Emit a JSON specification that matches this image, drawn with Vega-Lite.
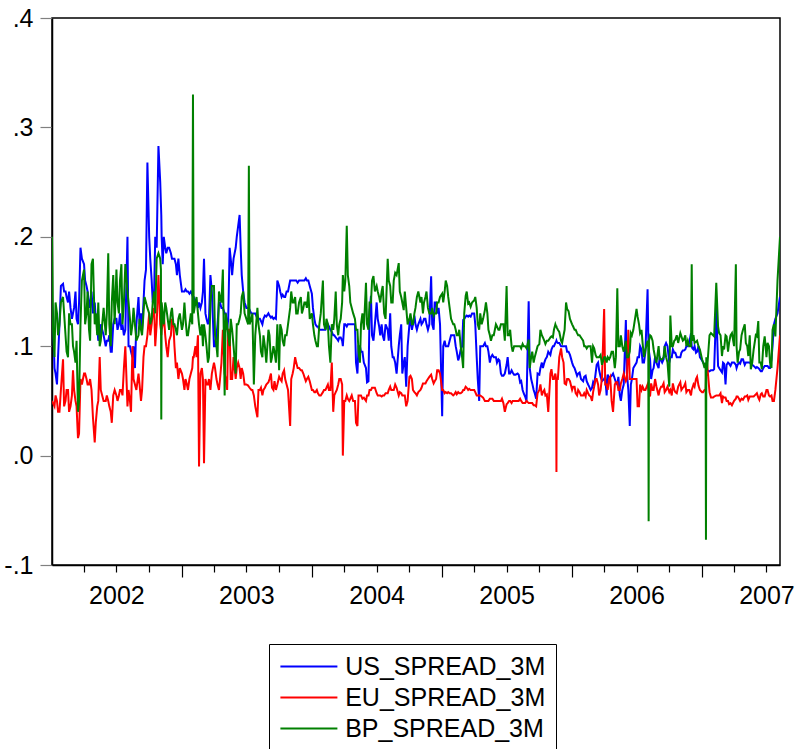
{
  "$schema": "https://vega.github.io/schema/vega-lite/v6.json",
  "width": 728,
  "height": 547,
  "autosize": {"type": "none"},
  "padding": {"left": 52, "top": 18, "right": 15, "bottom": 184},
  "background": "white",
  "data": {
    "values": [
      {"d":"2002-01-01","US":0.14,"EU":0.05,"BP":0.20},
      {"d":"2002-01-08","US":0.08,"EU":0.045,"BP":0.09},
      {"d":"2002-01-15","US":0.065,"EU":0.05,"BP":0.13},
      {"d":"2002-01-22","US":0.12,"EU":0.04,"BP":0.12},
      {"d":"2002-02-01","US":0.157,"EU":0.088,"BP":0.145},
      {"d":"2002-02-08","US":0.15,"EU":0.05,"BP":0.11},
      {"d":"2002-02-15","US":0.14,"EU":0.06,"BP":0.09},
      {"d":"2002-02-22","US":0.135,"EU":0.045,"BP":0.12},
      {"d":"2002-03-01","US":0.13,"EU":0.078,"BP":0.10},
      {"d":"2002-03-08","US":0.15,"EU":0.05,"BP":0.085},
      {"d":"2002-03-15","US":0.12,"EU":0.016,"BP":0.04},
      {"d":"2002-03-22","US":0.19,"EU":0.07,"BP":0.12},
      {"d":"2002-04-01","US":0.175,"EU":0.075,"BP":0.17},
      {"d":"2002-04-08","US":0.155,"EU":0.07,"BP":0.13},
      {"d":"2002-04-15","US":0.14,"EU":0.065,"BP":0.115},
      {"d":"2002-04-22","US":0.15,"EU":0.06,"BP":0.175},
      {"d":"2002-05-01","US":0.14,"EU":0.012,"BP":0.12},
      {"d":"2002-05-08","US":0.12,"EU":0.045,"BP":0.11},
      {"d":"2002-05-15","US":0.11,"EU":0.09,"BP":0.10},
      {"d":"2002-05-22","US":0.115,"EU":0.055,"BP":0.12},
      {"d":"2002-06-01","US":0.10,"EU":0.05,"BP":0.11},
      {"d":"2002-06-08","US":0.105,"EU":0.05,"BP":0.185},
      {"d":"2002-06-15","US":0.095,"EU":0.04,"BP":0.10},
      {"d":"2002-06-22","US":0.12,"EU":0.055,"BP":0.165},
      {"d":"2002-07-01","US":0.125,"EU":0.055,"BP":0.17},
      {"d":"2002-07-08","US":0.12,"EU":0.055,"BP":0.13},
      {"d":"2002-07-15","US":0.115,"EU":0.06,"BP":0.175},
      {"d":"2002-07-22","US":0.11,"EU":0.08,"BP":0.14},
      {"d":"2002-08-01","US":0.20,"EU":0.045,"BP":0.15},
      {"d":"2002-08-08","US":0.10,"EU":0.05,"BP":0.125},
      {"d":"2002-08-15","US":0.09,"EU":0.10,"BP":0.12},
      {"d":"2002-08-22","US":0.08,"EU":0.065,"BP":0.12},
      {"d":"2002-09-01","US":0.145,"EU":0.075,"BP":0.11},
      {"d":"2002-09-08","US":0.13,"EU":0.05,"BP":0.115},
      {"d":"2002-09-15","US":0.14,"EU":0.09,"BP":0.13},
      {"d":"2002-09-22","US":0.17,"EU":0.10,"BP":0.14},
      {"d":"2002-09-26","US":0.268,"EU":0.11,"BP":0.135},
      {"d":"2002-10-01","US":0.20,"EU":0.13,"BP":0.13},
      {"d":"2002-10-08","US":0.16,"EU":0.12,"BP":0.125},
      {"d":"2002-10-15","US":0.15,"EU":0.135,"BP":0.15},
      {"d":"2002-10-22","US":0.19,"EU":0.12,"BP":0.18},
      {"d":"2002-10-27","US":0.283,"EU":0.165,"BP":0.185},
      {"d":"2002-11-01","US":0.25,"EU":0.12,"BP":0.18},
      {"d":"2002-11-03","US":0.23,"EU":0.115,"BP":0.17},
      {"d":"2002-11-04","US":0.22,"EU":0.11,"BP":0.033},
      {"d":"2002-11-05","US":0.20,"EU":0.115,"BP":0.14},
      {"d":"2002-11-08","US":0.175,"EU":0.12,"BP":0.13},
      {"d":"2002-11-15","US":0.19,"EU":0.11,"BP":0.14},
      {"d":"2002-11-22","US":0.19,"EU":0.09,"BP":0.125},
      {"d":"2002-12-01","US":0.185,"EU":0.11,"BP":0.13},
      {"d":"2002-12-08","US":0.18,"EU":0.12,"BP":0.12},
      {"d":"2002-12-15","US":0.175,"EU":0.08,"BP":0.115},
      {"d":"2002-12-22","US":0.18,"EU":0.07,"BP":0.125},
      {"d":"2003-01-01","US":0.15,"EU":0.075,"BP":0.115},
      {"d":"2003-01-08","US":0.15,"EU":0.06,"BP":0.14},
      {"d":"2003-01-15","US":0.15,"EU":0.065,"BP":0.11},
      {"d":"2003-01-22","US":0.148,"EU":0.07,"BP":0.12},
      {"d":"2003-01-30","US":0.147,"EU":0.08,"BP":0.12},
      {"d":"2003-02-01","US":0.145,"EU":0.09,"BP":0.33},
      {"d":"2003-02-03","US":0.145,"EU":0.09,"BP":0.13},
      {"d":"2003-02-08","US":0.14,"EU":0.10,"BP":0.14},
      {"d":"2003-02-15","US":0.135,"EU":0.11,"BP":0.13},
      {"d":"2003-02-18","US":0.14,"EU":-0.01,"BP":0.12},
      {"d":"2003-02-22","US":0.135,"EU":0.075,"BP":0.11},
      {"d":"2003-03-01","US":0.15,"EU":0.07,"BP":0.10},
      {"d":"2003-03-04","US":0.18,"EU":-0.007,"BP":0.12},
      {"d":"2003-03-08","US":0.13,"EU":0.07,"BP":0.11},
      {"d":"2003-03-15","US":0.12,"EU":0.065,"BP":0.085},
      {"d":"2003-03-22","US":0.165,"EU":0.06,"BP":0.14},
      {"d":"2003-04-01","US":0.10,"EU":0.085,"BP":0.155},
      {"d":"2003-04-08","US":0.11,"EU":0.07,"BP":0.10},
      {"d":"2003-04-15","US":0.14,"EU":0.06,"BP":0.15},
      {"d":"2003-04-22","US":0.135,"EU":0.085,"BP":0.14},
      {"d":"2003-05-01","US":0.13,"EU":0.075,"BP":0.055},
      {"d":"2003-05-08","US":0.115,"EU":0.06,"BP":0.12},
      {"d":"2003-05-15","US":0.19,"EU":0.115,"BP":0.10},
      {"d":"2003-05-22","US":0.165,"EU":0.07,"BP":0.115},
      {"d":"2003-06-01","US":0.19,"EU":0.07,"BP":0.075},
      {"d":"2003-06-08","US":0.21,"EU":0.085,"BP":0.12},
      {"d":"2003-06-12","US":0.22,"EU":0.08,"BP":0.125},
      {"d":"2003-06-15","US":0.19,"EU":0.07,"BP":0.13},
      {"d":"2003-06-22","US":0.15,"EU":0.075,"BP":0.15},
      {"d":"2003-07-01","US":0.135,"EU":0.065,"BP":0.125},
      {"d":"2003-07-06","US":0.135,"EU":0.064,"BP":0.12},
      {"d":"2003-07-08","US":0.135,"EU":0.063,"BP":0.265},
      {"d":"2003-07-10","US":0.133,"EU":0.062,"BP":0.12},
      {"d":"2003-07-15","US":0.13,"EU":0.06,"BP":0.125},
      {"d":"2003-07-22","US":0.13,"EU":0.055,"BP":0.065},
      {"d":"2003-08-01","US":0.125,"EU":0.035,"BP":0.135},
      {"d":"2003-08-08","US":0.125,"EU":0.06,"BP":0.11},
      {"d":"2003-08-15","US":0.12,"EU":0.055,"BP":0.09},
      {"d":"2003-08-22","US":0.128,"EU":0.062,"BP":0.10},
      {"d":"2003-09-01","US":0.13,"EU":0.067,"BP":0.115},
      {"d":"2003-09-08","US":0.126,"EU":0.075,"BP":0.085},
      {"d":"2003-09-15","US":0.125,"EU":0.06,"BP":0.10},
      {"d":"2003-09-22","US":0.125,"EU":0.06,"BP":0.085},
      {"d":"2003-10-01","US":0.155,"EU":0.072,"BP":0.078},
      {"d":"2003-10-08","US":0.145,"EU":0.068,"BP":0.115},
      {"d":"2003-10-15","US":0.145,"EU":0.078,"BP":0.10},
      {"d":"2003-10-22","US":0.15,"EU":0.065,"BP":0.11},
      {"d":"2003-11-01","US":0.16,"EU":0.027,"BP":0.135},
      {"d":"2003-11-08","US":0.16,"EU":0.075,"BP":0.14},
      {"d":"2003-11-15","US":0.16,"EU":0.09,"BP":0.145},
      {"d":"2003-11-22","US":0.158,"EU":0.08,"BP":0.13},
      {"d":"2003-12-01","US":0.16,"EU":0.078,"BP":0.145},
      {"d":"2003-12-08","US":0.16,"EU":0.075,"BP":0.135},
      {"d":"2003-12-15","US":0.162,"EU":0.068,"BP":0.14},
      {"d":"2003-12-22","US":0.16,"EU":0.072,"BP":0.15},
      {"d":"2004-01-01","US":0.148,"EU":0.06,"BP":0.13},
      {"d":"2004-01-08","US":0.125,"EU":0.058,"BP":0.11},
      {"d":"2004-01-15","US":0.118,"EU":0.06,"BP":0.10},
      {"d":"2004-01-22","US":0.115,"EU":0.055,"BP":0.12},
      {"d":"2004-02-01","US":0.115,"EU":0.058,"BP":0.16},
      {"d":"2004-02-08","US":0.115,"EU":0.06,"BP":0.115},
      {"d":"2004-02-15","US":0.12,"EU":0.065,"BP":0.12},
      {"d":"2004-02-22","US":0.115,"EU":0.06,"BP":0.085},
      {"d":"2004-03-01","US":0.11,"EU":0.04,"BP":0.115},
      {"d":"2004-03-08","US":0.108,"EU":0.058,"BP":0.15},
      {"d":"2004-03-15","US":0.105,"EU":0.065,"BP":0.11},
      {"d":"2004-03-22","US":0.108,"EU":0.07,"BP":0.125},
      {"d":"2004-03-26","US":0.105,"EU":0.065,"BP":0.14},
      {"d":"2004-03-28","US":0.10,"EU":0.0,"BP":0.165},
      {"d":"2004-04-01","US":0.12,"EU":0.05,"BP":0.15},
      {"d":"2004-04-08","US":0.118,"EU":0.055,"BP":0.21},
      {"d":"2004-04-15","US":0.12,"EU":0.05,"BP":0.155},
      {"d":"2004-04-22","US":0.12,"EU":0.055,"BP":0.135},
      {"d":"2004-05-01","US":0.12,"EU":0.05,"BP":0.125},
      {"d":"2004-05-08","US":0.075,"EU":0.027,"BP":0.115},
      {"d":"2004-05-15","US":0.10,"EU":0.055,"BP":0.085},
      {"d":"2004-05-22","US":0.095,"EU":0.052,"BP":0.13},
      {"d":"2004-06-01","US":0.08,"EU":0.05,"BP":0.158},
      {"d":"2004-06-08","US":0.068,"EU":0.055,"BP":0.115},
      {"d":"2004-06-15","US":0.146,"EU":0.06,"BP":0.14},
      {"d":"2004-06-22","US":0.105,"EU":0.062,"BP":0.164},
      {"d":"2004-07-01","US":0.14,"EU":0.057,"BP":0.155},
      {"d":"2004-07-08","US":0.118,"EU":0.055,"BP":0.145},
      {"d":"2004-07-15","US":0.12,"EU":0.054,"BP":0.15},
      {"d":"2004-07-22","US":0.105,"EU":0.055,"BP":0.13},
      {"d":"2004-08-01","US":0.115,"EU":0.057,"BP":0.18},
      {"d":"2004-08-08","US":0.13,"EU":0.063,"BP":0.155},
      {"d":"2004-08-15","US":0.09,"EU":0.06,"BP":0.14},
      {"d":"2004-08-22","US":0.085,"EU":0.065,"BP":0.167},
      {"d":"2004-09-01","US":0.10,"EU":0.055,"BP":0.176},
      {"d":"2004-09-08","US":0.12,"EU":0.057,"BP":0.145},
      {"d":"2004-09-15","US":0.085,"EU":0.055,"BP":0.133},
      {"d":"2004-09-22","US":0.063,"EU":0.045,"BP":0.135},
      {"d":"2004-10-01","US":0.12,"EU":0.072,"BP":0.125},
      {"d":"2004-10-08","US":0.115,"EU":0.07,"BP":0.12},
      {"d":"2004-10-15","US":0.128,"EU":0.058,"BP":0.13},
      {"d":"2004-10-22","US":0.115,"EU":0.055,"BP":0.145},
      {"d":"2004-11-01","US":0.125,"EU":0.06,"BP":0.14},
      {"d":"2004-11-08","US":0.122,"EU":0.066,"BP":0.13},
      {"d":"2004-11-15","US":0.125,"EU":0.066,"BP":0.145},
      {"d":"2004-11-22","US":0.115,"EU":0.07,"BP":0.135},
      {"d":"2004-12-01","US":0.164,"EU":0.074,"BP":0.13},
      {"d":"2004-12-08","US":0.115,"EU":0.066,"BP":0.128},
      {"d":"2004-12-15","US":0.14,"EU":0.07,"BP":0.13},
      {"d":"2004-12-22","US":0.135,"EU":0.078,"BP":0.14},
      {"d":"2005-01-01","US":0.036,"EU":0.06,"BP":0.148},
      {"d":"2005-01-08","US":0.105,"EU":0.057,"BP":0.15},
      {"d":"2005-01-15","US":0.10,"EU":0.057,"BP":0.155},
      {"d":"2005-01-22","US":0.105,"EU":0.057,"BP":0.135},
      {"d":"2005-02-01","US":0.11,"EU":0.055,"BP":0.12},
      {"d":"2005-02-08","US":0.10,"EU":0.058,"BP":0.115},
      {"d":"2005-02-15","US":0.087,"EU":0.058,"BP":0.11},
      {"d":"2005-02-22","US":0.097,"EU":0.057,"BP":0.10},
      {"d":"2005-03-01","US":0.124,"EU":0.06,"BP":0.08},
      {"d":"2005-03-08","US":0.127,"EU":0.063,"BP":0.146},
      {"d":"2005-03-15","US":0.127,"EU":0.06,"BP":0.139},
      {"d":"2005-03-22","US":0.127,"EU":0.06,"BP":0.136},
      {"d":"2005-04-01","US":0.13,"EU":0.06,"BP":0.142},
      {"d":"2005-04-08","US":0.09,"EU":0.055,"BP":0.135},
      {"d":"2005-04-15","US":0.05,"EU":0.055,"BP":0.115},
      {"d":"2005-04-22","US":0.10,"EU":0.054,"BP":0.12},
      {"d":"2005-05-01","US":0.103,"EU":0.05,"BP":0.133},
      {"d":"2005-05-08","US":0.10,"EU":0.05,"BP":0.13},
      {"d":"2005-05-15","US":0.085,"EU":0.052,"BP":0.11},
      {"d":"2005-05-22","US":0.092,"EU":0.052,"BP":0.11},
      {"d":"2005-06-01","US":0.09,"EU":0.05,"BP":0.12},
      {"d":"2005-06-08","US":0.088,"EU":0.05,"BP":0.115},
      {"d":"2005-06-15","US":0.075,"EU":0.05,"BP":0.12},
      {"d":"2005-06-22","US":0.073,"EU":0.048,"BP":0.12},
      {"d":"2005-07-01","US":0.083,"EU":0.047,"BP":0.155},
      {"d":"2005-07-08","US":0.075,"EU":0.05,"BP":0.11},
      {"d":"2005-07-15","US":0.078,"EU":0.048,"BP":0.10},
      {"d":"2005-07-22","US":0.074,"EU":0.05,"BP":0.10},
      {"d":"2005-08-01","US":0.075,"EU":0.05,"BP":0.10},
      {"d":"2005-08-08","US":0.067,"EU":0.052,"BP":0.10},
      {"d":"2005-08-15","US":0.06,"EU":0.048,"BP":0.102},
      {"d":"2005-08-22","US":0.054,"EU":0.048,"BP":0.10},
      {"d":"2005-09-01","US":0.141,"EU":0.048,"BP":0.106},
      {"d":"2005-09-08","US":0.07,"EU":0.048,"BP":0.09},
      {"d":"2005-09-15","US":0.06,"EU":0.046,"BP":0.085},
      {"d":"2005-09-22","US":0.052,"EU":0.045,"BP":0.095},
      {"d":"2005-10-01","US":0.074,"EU":0.06,"BP":0.102},
      {"d":"2005-10-08","US":0.085,"EU":0.055,"BP":0.11},
      {"d":"2005-10-15","US":0.085,"EU":0.06,"BP":0.105},
      {"d":"2005-10-22","US":0.09,"EU":0.056,"BP":0.105},
      {"d":"2005-11-01","US":0.092,"EU":0.075,"BP":0.108},
      {"d":"2005-11-08","US":0.10,"EU":0.07,"BP":0.108},
      {"d":"2005-11-15","US":0.103,"EU":0.075,"BP":0.12},
      {"d":"2005-11-17","US":0.104,"EU":0.07,"BP":0.118},
      {"d":"2005-11-18","US":0.105,"EU":-0.015,"BP":0.118},
      {"d":"2005-11-19","US":0.104,"EU":0.07,"BP":0.117},
      {"d":"2005-11-22","US":0.103,"EU":0.07,"BP":0.115},
      {"d":"2005-12-01","US":0.10,"EU":0.098,"BP":0.105},
      {"d":"2005-12-08","US":0.10,"EU":0.085,"BP":0.11},
      {"d":"2005-12-15","US":0.10,"EU":0.065,"BP":0.14},
      {"d":"2005-12-22","US":0.095,"EU":0.07,"BP":0.132},
      {"d":"2006-01-01","US":0.085,"EU":0.06,"BP":0.12},
      {"d":"2006-01-08","US":0.08,"EU":0.063,"BP":0.115},
      {"d":"2006-01-15","US":0.073,"EU":0.055,"BP":0.112},
      {"d":"2006-01-22","US":0.076,"EU":0.058,"BP":0.11},
      {"d":"2006-02-01","US":0.068,"EU":0.055,"BP":0.105},
      {"d":"2006-02-08","US":0.073,"EU":0.054,"BP":0.10},
      {"d":"2006-02-15","US":0.065,"EU":0.057,"BP":0.10},
      {"d":"2006-02-22","US":0.06,"EU":0.054,"BP":0.10},
      {"d":"2006-03-01","US":0.067,"EU":0.058,"BP":0.10},
      {"d":"2006-03-08","US":0.075,"EU":0.07,"BP":0.092},
      {"d":"2006-03-15","US":0.085,"EU":0.065,"BP":0.09},
      {"d":"2006-03-22","US":0.072,"EU":0.06,"BP":0.092},
      {"d":"2006-04-01","US":0.07,"EU":0.134,"BP":0.09},
      {"d":"2006-04-08","US":0.055,"EU":0.065,"BP":0.085},
      {"d":"2006-04-15","US":0.07,"EU":0.07,"BP":0.088},
      {"d":"2006-04-22","US":0.073,"EU":0.05,"BP":0.095},
      {"d":"2006-05-01","US":0.07,"EU":0.065,"BP":0.08},
      {"d":"2006-05-08","US":0.065,"EU":0.067,"BP":0.153},
      {"d":"2006-05-15","US":0.055,"EU":0.06,"BP":0.10},
      {"d":"2006-05-22","US":0.06,"EU":0.07,"BP":0.10},
      {"d":"2006-06-01","US":0.124,"EU":0.068,"BP":0.105},
      {"d":"2006-06-08","US":0.06,"EU":0.115,"BP":0.09},
      {"d":"2006-06-12","US":0.027,"EU":0.07,"BP":0.095},
      {"d":"2006-06-15","US":0.065,"EU":0.07,"BP":0.112},
      {"d":"2006-06-22","US":0.08,"EU":0.07,"BP":0.115},
      {"d":"2006-07-01","US":0.085,"EU":0.07,"BP":0.134},
      {"d":"2006-07-08","US":0.09,"EU":0.045,"BP":0.12},
      {"d":"2006-07-15","US":0.097,"EU":0.06,"BP":0.115},
      {"d":"2006-07-22","US":0.085,"EU":0.06,"BP":0.09},
      {"d":"2006-08-01","US":0.152,"EU":0.065,"BP":0.105},
      {"d":"2006-08-03","US":0.11,"EU":0.062,"BP":0.10},
      {"d":"2006-08-04","US":0.10,"EU":0.06,"BP":-0.06},
      {"d":"2006-08-05","US":0.095,"EU":0.058,"BP":0.105},
      {"d":"2006-08-08","US":0.088,"EU":0.054,"BP":0.11},
      {"d":"2006-08-15","US":0.078,"EU":0.06,"BP":0.105},
      {"d":"2006-08-22","US":0.09,"EU":0.07,"BP":0.09},
      {"d":"2006-09-01","US":0.08,"EU":0.055,"BP":0.10},
      {"d":"2006-09-08","US":0.087,"EU":0.063,"BP":0.088},
      {"d":"2006-09-15","US":0.088,"EU":0.066,"BP":0.09},
      {"d":"2006-09-22","US":0.103,"EU":0.06,"BP":0.09},
      {"d":"2006-10-01","US":0.085,"EU":0.058,"BP":0.063},
      {"d":"2006-10-04","US":0.09,"EU":0.06,"BP":0.128},
      {"d":"2006-10-08","US":0.09,"EU":0.055,"BP":0.10},
      {"d":"2006-10-15","US":0.094,"EU":0.06,"BP":0.105},
      {"d":"2006-10-22","US":0.09,"EU":0.057,"BP":0.11},
      {"d":"2006-11-01","US":0.09,"EU":0.067,"BP":0.112},
      {"d":"2006-11-08","US":0.096,"EU":0.062,"BP":0.105},
      {"d":"2006-11-15","US":0.097,"EU":0.066,"BP":0.11},
      {"d":"2006-11-22","US":0.10,"EU":0.06,"BP":0.105},
      {"d":"2006-12-01","US":0.112,"EU":0.055,"BP":0.10},
      {"d":"2006-12-03","US":0.10,"EU":0.06,"BP":0.175},
      {"d":"2006-12-05","US":0.098,"EU":0.062,"BP":0.105},
      {"d":"2006-12-08","US":0.097,"EU":0.065,"BP":0.11},
      {"d":"2006-12-15","US":0.094,"EU":0.07,"BP":0.104},
      {"d":"2006-12-22","US":0.10,"EU":0.064,"BP":0.10},
      {"d":"2007-01-01","US":0.087,"EU":0.058,"BP":0.088},
      {"d":"2007-01-08","US":0.083,"EU":0.06,"BP":0.08},
      {"d":"2007-01-11","US":0.082,"EU":0.06,"BP":0.085},
      {"d":"2007-01-12","US":0.08,"EU":0.07,"BP":-0.077},
      {"d":"2007-01-13","US":0.079,"EU":0.08,"BP":0.09},
      {"d":"2007-01-15","US":0.078,"EU":0.085,"BP":0.078},
      {"d":"2007-01-22","US":0.077,"EU":0.058,"BP":0.11},
      {"d":"2007-02-01","US":0.078,"EU":0.053,"BP":0.11},
      {"d":"2007-02-10","US":0.137,"EU":0.055,"BP":0.158},
      {"d":"2007-02-15","US":0.082,"EU":0.055,"BP":0.118},
      {"d":"2007-02-22","US":0.078,"EU":0.057,"BP":0.11},
      {"d":"2007-03-01","US":0.085,"EU":0.054,"BP":0.10},
      {"d":"2007-03-08","US":0.065,"EU":0.053,"BP":0.11},
      {"d":"2007-03-15","US":0.085,"EU":0.05,"BP":0.095},
      {"d":"2007-03-22","US":0.082,"EU":0.048,"BP":0.11},
      {"d":"2007-04-01","US":0.085,"EU":0.05,"BP":0.10},
      {"d":"2007-04-06","US":0.083,"EU":0.052,"BP":0.175},
      {"d":"2007-04-08","US":0.08,"EU":0.054,"BP":0.10},
      {"d":"2007-04-15","US":0.085,"EU":0.052,"BP":0.095},
      {"d":"2007-04-22","US":0.088,"EU":0.052,"BP":0.11},
      {"d":"2007-05-01","US":0.083,"EU":0.054,"BP":0.12},
      {"d":"2007-05-08","US":0.085,"EU":0.055,"BP":0.10},
      {"d":"2007-05-15","US":0.085,"EU":0.054,"BP":0.11},
      {"d":"2007-05-22","US":0.083,"EU":0.054,"BP":0.085},
      {"d":"2007-06-01","US":0.08,"EU":0.056,"BP":0.11},
      {"d":"2007-06-08","US":0.08,"EU":0.053,"BP":0.123},
      {"d":"2007-06-15","US":0.077,"EU":0.056,"BP":0.085},
      {"d":"2007-06-22","US":0.08,"EU":0.054,"BP":0.10},
      {"d":"2007-07-01","US":0.082,"EU":0.06,"BP":0.09},
      {"d":"2007-07-08","US":0.08,"EU":0.055,"BP":0.10},
      {"d":"2007-07-15","US":0.088,"EU":0.055,"BP":0.08},
      {"d":"2007-07-22","US":0.12,"EU":0.05,"BP":0.12},
      {"d":"2007-08-01","US":0.13,"EU":0.08,"BP":0.16},
      {"d":"2007-08-08","US":0.145,"EU":0.11,"BP":0.20},
      {"d":"2002-01-04","US":0.127,"EU":0.048,"BP":0.115},
      {"d":"2002-01-11","US":0.075,"EU":0.055,"BP":0.14},
      {"d":"2002-01-18","US":0.09,"EU":0.04,"BP":0.11},
      {"d":"2002-01-26","US":0.155,"EU":0.06,"BP":0.14},
      {"d":"2002-02-04","US":0.15,"EU":0.045,"BP":0.13},
      {"d":"2002-02-11","US":0.145,"EU":0.06,"BP":0.095},
      {"d":"2002-02-18","US":0.15,"EU":0.04,"BP":0.13},
      {"d":"2002-02-26","US":0.125,"EU":0.055,"BP":0.12},
      {"d":"2002-03-04","US":0.135,"EU":0.06,"BP":0.095},
      {"d":"2002-03-11","US":0.125,"EU":0.045,"BP":0.105},
      {"d":"2002-03-18","US":0.14,"EU":0.02,"BP":0.05},
      {"d":"2002-03-26","US":0.18,"EU":0.065,"BP":0.16},
      {"d":"2002-04-04","US":0.16,"EU":0.075,"BP":0.12},
      {"d":"2002-04-11","US":0.15,"EU":0.065,"BP":0.15},
      {"d":"2002-04-18","US":0.135,"EU":0.07,"BP":0.105},
      {"d":"2002-04-26","US":0.13,"EU":0.035,"BP":0.18},
      {"d":"2002-05-04","US":0.125,"EU":0.03,"BP":0.13},
      {"d":"2002-05-11","US":0.105,"EU":0.05,"BP":0.14},
      {"d":"2002-05-18","US":0.12,"EU":0.06,"BP":0.105},
      {"d":"2002-05-26","US":0.11,"EU":0.05,"BP":0.135},
      {"d":"2002-06-04","US":0.105,"EU":0.055,"BP":0.13},
      {"d":"2002-06-11","US":0.11,"EU":0.045,"BP":0.12},
      {"d":"2002-06-18","US":0.095,"EU":0.03,"BP":0.14},
      {"d":"2002-06-26","US":0.125,"EU":0.06,"BP":0.12},
      {"d":"2002-07-04","US":0.115,"EU":0.05,"BP":0.14},
      {"d":"2002-07-11","US":0.13,"EU":0.06,"BP":0.16},
      {"d":"2002-07-18","US":0.12,"EU":0.055,"BP":0.12},
      {"d":"2002-07-26","US":0.115,"EU":0.10,"BP":0.175},
      {"d":"2002-08-04","US":0.10,"EU":0.06,"BP":0.14},
      {"d":"2002-08-11","US":0.095,"EU":0.04,"BP":0.11},
      {"d":"2002-08-18","US":0.10,"EU":0.07,"BP":0.135},
      {"d":"2002-08-26","US":0.12,"EU":0.06,"BP":0.105},
      {"d":"2002-09-04","US":0.12,"EU":0.065,"BP":0.125},
      {"d":"2002-09-11","US":0.115,"EU":0.06,"BP":0.11},
      {"d":"2002-09-18","US":0.16,"EU":0.10,"BP":0.145},
      {"d":"2002-10-04","US":0.18,"EU":0.11,"BP":0.12},
      {"d":"2002-10-11","US":0.14,"EU":0.13,"BP":0.14},
      {"d":"2002-10-18","US":0.20,"EU":0.10,"BP":0.13},
      {"d":"2002-11-11","US":0.20,"EU":0.13,"BP":0.12},
      {"d":"2002-11-18","US":0.185,"EU":0.10,"BP":0.135},
      {"d":"2002-11-26","US":0.19,"EU":0.105,"BP":0.115},
      {"d":"2002-12-04","US":0.18,"EU":0.125,"BP":0.135},
      {"d":"2002-12-11","US":0.18,"EU":0.10,"BP":0.12},
      {"d":"2002-12-18","US":0.165,"EU":0.085,"BP":0.11},
      {"d":"2002-12-26","US":0.165,"EU":0.08,"BP":0.13},
      {"d":"2003-01-04","US":0.15,"EU":0.07,"BP":0.12},
      {"d":"2003-01-11","US":0.152,"EU":0.07,"BP":0.125},
      {"d":"2003-01-18","US":0.15,"EU":0.06,"BP":0.11},
      {"d":"2003-01-26","US":0.15,"EU":0.075,"BP":0.13},
      {"d":"2003-02-11","US":0.14,"EU":0.09,"BP":0.145},
      {"d":"2003-02-26","US":0.14,"EU":0.08,"BP":0.12},
      {"d":"2003-03-11","US":0.125,"EU":0.065,"BP":0.10},
      {"d":"2003-03-18","US":0.125,"EU":0.07,"BP":0.09},
      {"d":"2003-03-26","US":0.15,"EU":0.075,"BP":0.155},
      {"d":"2003-04-04","US":0.10,"EU":0.08,"BP":0.11},
      {"d":"2003-04-11","US":0.12,"EU":0.065,"BP":0.09},
      {"d":"2003-04-18","US":0.14,"EU":0.07,"BP":0.145},
      {"d":"2003-04-26","US":0.135,"EU":0.115,"BP":0.17},
      {"d":"2003-05-04","US":0.13,"EU":0.07,"BP":0.13},
      {"d":"2003-05-11","US":0.125,"EU":0.115,"BP":0.11},
      {"d":"2003-05-18","US":0.18,"EU":0.07,"BP":0.125},
      {"d":"2003-05-26","US":0.18,"EU":0.09,"BP":0.10},
      {"d":"2003-06-04","US":0.20,"EU":0.08,"BP":0.12},
      {"d":"2003-06-18","US":0.165,"EU":0.08,"BP":0.145},
      {"d":"2003-06-26","US":0.14,"EU":0.065,"BP":0.13},
      {"d":"2003-07-18","US":0.13,"EU":0.06,"BP":0.13},
      {"d":"2003-07-26","US":0.13,"EU":0.045,"BP":0.11},
      {"d":"2003-08-04","US":0.125,"EU":0.06,"BP":0.12},
      {"d":"2003-08-11","US":0.123,"EU":0.062,"BP":0.095},
      {"d":"2003-08-18","US":0.125,"EU":0.06,"BP":0.11},
      {"d":"2003-08-26","US":0.127,"EU":0.065,"BP":0.085},
      {"d":"2003-09-04","US":0.128,"EU":0.07,"BP":0.11},
      {"d":"2003-09-11","US":0.127,"EU":0.062,"BP":0.09},
      {"d":"2003-09-18","US":0.126,"EU":0.068,"BP":0.095},
      {"d":"2003-09-26","US":0.16,"EU":0.065,"BP":0.12},
      {"d":"2003-10-04","US":0.15,"EU":0.07,"BP":0.12},
      {"d":"2003-10-11","US":0.147,"EU":0.075,"BP":0.105},
      {"d":"2003-10-18","US":0.145,"EU":0.07,"BP":0.11},
      {"d":"2003-10-26","US":0.15,"EU":0.06,"BP":0.12},
      {"d":"2003-11-04","US":0.16,"EU":0.07,"BP":0.15},
      {"d":"2003-11-11","US":0.16,"EU":0.08,"BP":0.14},
      {"d":"2003-11-18","US":0.16,"EU":0.085,"BP":0.13},
      {"d":"2003-11-26","US":0.16,"EU":0.08,"BP":0.14},
      {"d":"2003-12-04","US":0.16,"EU":0.078,"BP":0.13},
      {"d":"2003-12-11","US":0.16,"EU":0.072,"BP":0.14},
      {"d":"2003-12-18","US":0.16,"EU":0.07,"BP":0.135},
      {"d":"2003-12-26","US":0.155,"EU":0.068,"BP":0.125},
      {"d":"2004-01-04","US":0.135,"EU":0.06,"BP":0.12},
      {"d":"2004-01-11","US":0.12,"EU":0.058,"BP":0.105},
      {"d":"2004-01-18","US":0.118,"EU":0.057,"BP":0.10},
      {"d":"2004-01-26","US":0.115,"EU":0.055,"BP":0.13},
      {"d":"2004-02-04","US":0.115,"EU":0.06,"BP":0.12},
      {"d":"2004-02-11","US":0.118,"EU":0.062,"BP":0.125},
      {"d":"2004-02-18","US":0.118,"EU":0.06,"BP":0.10},
      {"d":"2004-02-26","US":0.113,"EU":0.085,"BP":0.12},
      {"d":"2004-03-04","US":0.11,"EU":0.055,"BP":0.125},
      {"d":"2004-03-11","US":0.107,"EU":0.06,"BP":0.12},
      {"d":"2004-03-18","US":0.108,"EU":0.07,"BP":0.12},
      {"d":"2004-04-04","US":0.12,"EU":0.05,"BP":0.16},
      {"d":"2004-04-11","US":0.12,"EU":0.052,"BP":0.165},
      {"d":"2004-04-18","US":0.12,"EU":0.052,"BP":0.14},
      {"d":"2004-04-26","US":0.12,"EU":0.05,"BP":0.13},
      {"d":"2004-05-04","US":0.085,"EU":0.03,"BP":0.115},
      {"d":"2004-05-11","US":0.10,"EU":0.055,"BP":0.095},
      {"d":"2004-05-18","US":0.095,"EU":0.055,"BP":0.12},
      {"d":"2004-05-26","US":0.085,"EU":0.053,"BP":0.115},
      {"d":"2004-06-04","US":0.067,"EU":0.055,"BP":0.12},
      {"d":"2004-06-11","US":0.13,"EU":0.06,"BP":0.14},
      {"d":"2004-06-18","US":0.11,"EU":0.062,"BP":0.16},
      {"d":"2004-06-26","US":0.12,"EU":0.062,"BP":0.15},
      {"d":"2004-07-04","US":0.125,"EU":0.055,"BP":0.15},
      {"d":"2004-07-11","US":0.11,"EU":0.055,"BP":0.14},
      {"d":"2004-07-18","US":0.11,"EU":0.055,"BP":0.155},
      {"d":"2004-07-26","US":0.12,"EU":0.057,"BP":0.125},
      {"d":"2004-08-04","US":0.105,"EU":0.06,"BP":0.16},
      {"d":"2004-08-11","US":0.10,"EU":0.06,"BP":0.14},
      {"d":"2004-08-18","US":0.09,"EU":0.06,"BP":0.16},
      {"d":"2004-08-26","US":0.075,"EU":0.062,"BP":0.165},
      {"d":"2004-09-04","US":0.11,"EU":0.058,"BP":0.15},
      {"d":"2004-09-11","US":0.075,"EU":0.055,"BP":0.14},
      {"d":"2004-09-18","US":0.09,"EU":0.055,"BP":0.15},
      {"d":"2004-09-26","US":0.10,"EU":0.05,"BP":0.12},
      {"d":"2004-10-04","US":0.125,"EU":0.073,"BP":0.13},
      {"d":"2004-10-11","US":0.12,"EU":0.06,"BP":0.12},
      {"d":"2004-10-18","US":0.12,"EU":0.057,"BP":0.135},
      {"d":"2004-10-26","US":0.12,"EU":0.058,"BP":0.15},
      {"d":"2004-11-04","US":0.12,"EU":0.062,"BP":0.145},
      {"d":"2004-11-11","US":0.125,"EU":0.066,"BP":0.14},
      {"d":"2004-11-18","US":0.12,"EU":0.068,"BP":0.15},
      {"d":"2004-11-26","US":0.12,"EU":0.072,"BP":0.13},
      {"d":"2004-12-04","US":0.12,"EU":0.07,"BP":0.135},
      {"d":"2004-12-11","US":0.14,"EU":0.068,"BP":0.13},
      {"d":"2004-12-18","US":0.13,"EU":0.078,"BP":0.14},
      {"d":"2004-12-26","US":0.12,"EU":0.075,"BP":0.145},
      {"d":"2005-01-04","US":0.10,"EU":0.06,"BP":0.14},
      {"d":"2005-01-11","US":0.10,"EU":0.058,"BP":0.16},
      {"d":"2005-01-18","US":0.10,"EU":0.058,"BP":0.145},
      {"d":"2005-01-26","US":0.11,"EU":0.057,"BP":0.125},
      {"d":"2005-02-04","US":0.11,"EU":0.056,"BP":0.12},
      {"d":"2005-02-11","US":0.095,"EU":0.056,"BP":0.11},
      {"d":"2005-02-18","US":0.09,"EU":0.057,"BP":0.115},
      {"d":"2005-02-26","US":0.10,"EU":0.058,"BP":0.09},
      {"d":"2005-03-04","US":0.125,"EU":0.06,"BP":0.13},
      {"d":"2005-03-11","US":0.128,"EU":0.062,"BP":0.15},
      {"d":"2005-03-18","US":0.128,"EU":0.061,"BP":0.14},
      {"d":"2005-03-26","US":0.13,"EU":0.06,"BP":0.14},
      {"d":"2005-04-04","US":0.12,"EU":0.058,"BP":0.145},
      {"d":"2005-04-11","US":0.07,"EU":0.055,"BP":0.12},
      {"d":"2005-04-18","US":0.10,"EU":0.055,"BP":0.13},
      {"d":"2005-04-26","US":0.10,"EU":0.053,"BP":0.125},
      {"d":"2005-05-04","US":0.10,"EU":0.05,"BP":0.14},
      {"d":"2005-05-11","US":0.095,"EU":0.05,"BP":0.115},
      {"d":"2005-05-18","US":0.09,"EU":0.052,"BP":0.105},
      {"d":"2005-05-26","US":0.09,"EU":0.05,"BP":0.11},
      {"d":"2005-06-04","US":0.085,"EU":0.05,"BP":0.118},
      {"d":"2005-06-11","US":0.087,"EU":0.05,"BP":0.115},
      {"d":"2005-06-18","US":0.073,"EU":0.052,"BP":0.12},
      {"d":"2005-06-26","US":0.075,"EU":0.04,"BP":0.105},
      {"d":"2005-07-04","US":0.09,"EU":0.048,"BP":0.11},
      {"d":"2005-07-11","US":0.075,"EU":0.05,"BP":0.115},
      {"d":"2005-07-18","US":0.076,"EU":0.05,"BP":0.095},
      {"d":"2005-07-26","US":0.074,"EU":0.05,"BP":0.10},
      {"d":"2005-08-04","US":0.074,"EU":0.05,"BP":0.10},
      {"d":"2005-08-11","US":0.068,"EU":0.05,"BP":0.098},
      {"d":"2005-08-18","US":0.057,"EU":0.048,"BP":0.10},
      {"d":"2005-08-26","US":0.05,"EU":0.05,"BP":0.098},
      {"d":"2005-09-04","US":0.08,"EU":0.048,"BP":0.08},
      {"d":"2005-09-11","US":0.066,"EU":0.048,"BP":0.095},
      {"d":"2005-09-18","US":0.057,"EU":0.046,"BP":0.09},
      {"d":"2005-09-26","US":0.075,"EU":0.057,"BP":0.10},
      {"d":"2005-10-04","US":0.08,"EU":0.065,"BP":0.115},
      {"d":"2005-10-11","US":0.08,"EU":0.058,"BP":0.108},
      {"d":"2005-10-18","US":0.088,"EU":0.055,"BP":0.102},
      {"d":"2005-10-26","US":0.095,"EU":0.04,"BP":0.105},
      {"d":"2005-11-04","US":0.097,"EU":0.079,"BP":0.109},
      {"d":"2005-11-11","US":0.10,"EU":0.07,"BP":0.115},
      {"d":"2005-11-26","US":0.103,"EU":0.09,"BP":0.113},
      {"d":"2005-12-04","US":0.10,"EU":0.09,"BP":0.103},
      {"d":"2005-12-11","US":0.10,"EU":0.066,"BP":0.115},
      {"d":"2005-12-18","US":0.095,"EU":0.07,"BP":0.134},
      {"d":"2005-12-26","US":0.092,"EU":0.068,"BP":0.125},
      {"d":"2006-01-04","US":0.082,"EU":0.063,"BP":0.118},
      {"d":"2006-01-11","US":0.077,"EU":0.057,"BP":0.115},
      {"d":"2006-01-18","US":0.075,"EU":0.06,"BP":0.11},
      {"d":"2006-01-26","US":0.07,"EU":0.055,"BP":0.108},
      {"d":"2006-02-04","US":0.072,"EU":0.057,"BP":0.10},
      {"d":"2006-02-11","US":0.068,"EU":0.06,"BP":0.098},
      {"d":"2006-02-18","US":0.063,"EU":0.055,"BP":0.10},
      {"d":"2006-02-26","US":0.062,"EU":0.05,"BP":0.085},
      {"d":"2006-03-04","US":0.065,"EU":0.063,"BP":0.098},
      {"d":"2006-03-11","US":0.083,"EU":0.07,"BP":0.09},
      {"d":"2006-03-18","US":0.078,"EU":0.055,"BP":0.09},
      {"d":"2006-03-26","US":0.068,"EU":0.072,"BP":0.083},
      {"d":"2006-04-04","US":0.072,"EU":0.065,"BP":0.09},
      {"d":"2006-04-11","US":0.074,"EU":0.06,"BP":0.09},
      {"d":"2006-04-18","US":0.072,"EU":0.072,"BP":0.09},
      {"d":"2006-04-26","US":0.075,"EU":0.04,"BP":0.095},
      {"d":"2006-05-04","US":0.067,"EU":0.067,"BP":0.09},
      {"d":"2006-05-11","US":0.072,"EU":0.06,"BP":0.10},
      {"d":"2006-05-18","US":0.05,"EU":0.066,"BP":0.11},
      {"d":"2006-05-26","US":0.065,"EU":0.075,"BP":0.095},
      {"d":"2006-06-04","US":0.075,"EU":0.07,"BP":0.09},
      {"d":"2006-06-18","US":0.07,"EU":0.07,"BP":0.11},
      {"d":"2006-07-04","US":0.09,"EU":0.045,"BP":0.127},
      {"d":"2006-07-11","US":0.10,"EU":0.065,"BP":0.112},
      {"d":"2006-07-18","US":0.085,"EU":0.063,"BP":0.103},
      {"d":"2006-07-26","US":0.095,"EU":0.06,"BP":0.097},
      {"d":"2006-08-11","US":0.07,"EU":0.066,"BP":0.109},
      {"d":"2006-08-18","US":0.08,"EU":0.06,"BP":0.097},
      {"d":"2006-08-26","US":0.085,"EU":0.063,"BP":0.085},
      {"d":"2006-09-04","US":0.09,"EU":0.06,"BP":0.088},
      {"d":"2006-09-11","US":0.085,"EU":0.063,"BP":0.088},
      {"d":"2006-09-18","US":0.10,"EU":0.058,"BP":0.10},
      {"d":"2006-09-26","US":0.10,"EU":0.063,"BP":0.085},
      {"d":"2006-10-11","US":0.097,"EU":0.066,"BP":0.10},
      {"d":"2006-10-18","US":0.094,"EU":0.058,"BP":0.106},
      {"d":"2006-10-26","US":0.09,"EU":0.063,"BP":0.103},
      {"d":"2006-11-04","US":0.094,"EU":0.06,"BP":0.109},
      {"d":"2006-11-11","US":0.096,"EU":0.063,"BP":0.106},
      {"d":"2006-11-18","US":0.10,"EU":0.058,"BP":0.10},
      {"d":"2006-11-26","US":0.103,"EU":0.06,"BP":0.10},
      {"d":"2006-12-11","US":0.10,"EU":0.063,"BP":0.103},
      {"d":"2006-12-18","US":0.095,"EU":0.072,"BP":0.105},
      {"d":"2006-12-26","US":0.09,"EU":0.06,"BP":0.097},
      {"d":"2007-01-04","US":0.085,"EU":0.058,"BP":0.085},
      {"d":"2007-01-26","US":0.078,"EU":0.053,"BP":0.112},
      {"d":"2007-02-04","US":0.079,"EU":0.054,"BP":0.109},
      {"d":"2007-02-18","US":0.08,"EU":0.055,"BP":0.112},
      {"d":"2007-02-26","US":0.076,"EU":0.048,"BP":0.091},
      {"d":"2007-03-04","US":0.084,"EU":0.053,"BP":0.097},
      {"d":"2007-03-11","US":0.083,"EU":0.05,"BP":0.109},
      {"d":"2007-03-18","US":0.084,"EU":0.047,"BP":0.103},
      {"d":"2007-03-26","US":0.085,"EU":0.046,"BP":0.112},
      {"d":"2007-04-11","US":0.083,"EU":0.054,"BP":0.085},
      {"d":"2007-04-18","US":0.084,"EU":0.05,"BP":0.097},
      {"d":"2007-04-26","US":0.088,"EU":0.051,"BP":0.115},
      {"d":"2007-05-04","US":0.085,"EU":0.054,"BP":0.103},
      {"d":"2007-05-11","US":0.085,"EU":0.051,"BP":0.091},
      {"d":"2007-05-18","US":0.084,"EU":0.054,"BP":0.079},
      {"d":"2007-05-26","US":0.082,"EU":0.054,"BP":0.097},
      {"d":"2007-06-04","US":0.081,"EU":0.057,"BP":0.109},
      {"d":"2007-06-11","US":0.079,"EU":0.051,"BP":0.085},
      {"d":"2007-06-18","US":0.077,"EU":0.057,"BP":0.079},
      {"d":"2007-06-26","US":0.082,"EU":0.054,"BP":0.109},
      {"d":"2007-07-04","US":0.082,"EU":0.06,"BP":0.103},
      {"d":"2007-07-11","US":0.08,"EU":0.054,"BP":0.085},
      {"d":"2007-07-18","US":0.10,"EU":0.05,"BP":0.115},
      {"d":"2007-07-26","US":0.125,"EU":0.06,"BP":0.109}
    ]
  },
  "transform": [
    {"fold": ["US", "EU", "BP"], "as": ["series", "value"]}
  ],
  "mark": {"type": "line", "strokeWidth": 2, "interpolate": "linear", "clip": true},
  "encoding": {
    "x": {
      "field": "d",
      "type": "temporal",
      "scale": {
        "type": "utc",
        "domain": [
          {"year": 2002, "month": 1, "date": 1, "utc": true},
          {"year": 2007, "month": 8, "date": 8, "utc": true}
        ]
      },
      "axis": {
        "title": null,
        "grid": false,
        "values": [
          {"year": 2002, "month": 4, "date": 1, "utc": true},
          {"year": 2002, "month": 7, "date": 1, "utc": true},
          {"year": 2002, "month": 10, "date": 1, "utc": true},
          {"year": 2003, "month": 1, "date": 1, "utc": true},
          {"year": 2003, "month": 4, "date": 1, "utc": true},
          {"year": 2003, "month": 7, "date": 1, "utc": true},
          {"year": 2003, "month": 10, "date": 1, "utc": true},
          {"year": 2004, "month": 1, "date": 1, "utc": true},
          {"year": 2004, "month": 4, "date": 1, "utc": true},
          {"year": 2004, "month": 7, "date": 1, "utc": true},
          {"year": 2004, "month": 10, "date": 1, "utc": true},
          {"year": 2005, "month": 1, "date": 1, "utc": true},
          {"year": 2005, "month": 4, "date": 1, "utc": true},
          {"year": 2005, "month": 7, "date": 1, "utc": true},
          {"year": 2005, "month": 10, "date": 1, "utc": true},
          {"year": 2006, "month": 1, "date": 1, "utc": true},
          {"year": 2006, "month": 4, "date": 1, "utc": true},
          {"year": 2006, "month": 7, "date": 1, "utc": true},
          {"year": 2006, "month": 10, "date": 1, "utc": true},
          {"year": 2007, "month": 1, "date": 1, "utc": true},
          {"year": 2007, "month": 4, "date": 1, "utc": true},
          {"year": 2007, "month": 7, "date": 1, "utc": true}
        ],
        "labelExpr": "utcmonth(datum.value) == 6 ? utcFormat(datum.value, '%Y') : ''",
        "tickSize": {"condition": {"test": "utcmonth(datum.value) == 0", "value": 12}, "value": 7},
        "tickColor": "black",
        "tickWidth": 1.2,
        "domainColor": "black",
        "domainWidth": 1.5,
        "labelFont": "Liberation Sans",
        "labelFontSize": 25,
        "labelColor": "black",
        "labelPadding": 11,
        "labelOverlap": false,
        "labelFlush": false,
        "labelBound": false
      }
    },
    "y": {
      "field": "value",
      "type": "quantitative",
      "scale": {"domain": [-0.1, 0.4], "nice": false, "zero": false},
      "axis": {
        "title": null,
        "grid": false,
        "values": [-0.1, 0, 0.1, 0.2, 0.3, 0.4],
        "labelExpr": "datum.value < 0 ? '-' + replace(format(-datum.value, '.1f'), '0.', '.') : replace(format(datum.value, '.1f'), '0.', '.')",
        "tickSize": 12,
        "tickColor": "#808080",
        "tickWidth": 1.2,
        "domainColor": "black",
        "domainWidth": 1.5,
        "labelFont": "Liberation Sans",
        "labelFontSize": 25,
        "labelColor": "black",
        "labelPadding": 7
      }
    },
    "color": {
      "field": "series",
      "type": "nominal",
      "sort": ["US", "EU", "BP"],
      "scale": {"domain": ["US", "EU", "BP"], "range": ["#0000FF", "#FF0000", "#008000"]},
      "legend": {
        "title": null,
        "orient": "none",
        "legendX": 217,
        "legendY": 626,
        "direction": "vertical",
        "labelExpr": "datum.label + '_SPREAD_3M'",
        "labelLimit": 0,
        "symbolType": "M-4,0H4",
        "symbolSize": 203,
        "symbolStrokeWidth": 2,
        "symbolOffset": 17.4,
        "labelFont": "Liberation Sans",
        "labelFontSize": 25,
        "labelColor": "black",
        "labelOffset": 23.75,
        "rowPadding": 5,
        "padding": 10,
        "strokeColor": "black",
        "fillColor": "white"
      }
    }
  },
  "config": {
    "font": "Liberation Sans",
    "view": {"stroke": "black", "strokeWidth": 1.5}
  }
}
